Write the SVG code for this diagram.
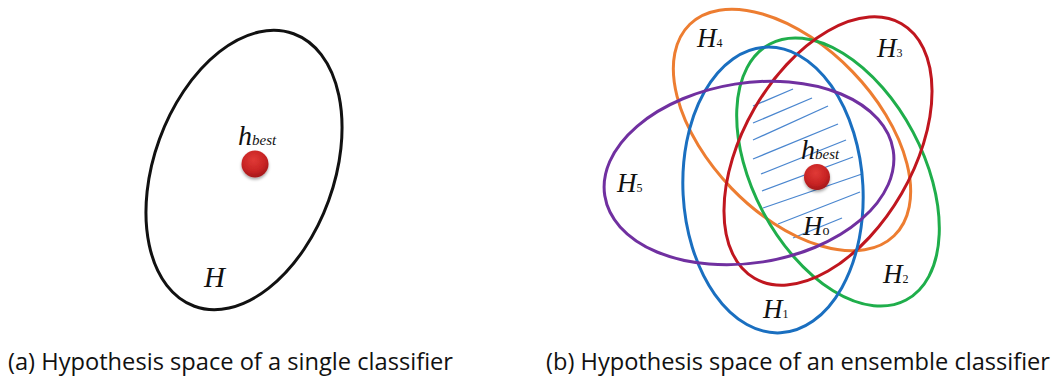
<svg xmlns="http://www.w3.org/2000/svg" width="1057" height="381" viewBox="0 0 1057 381">
  <style>
    .ell { fill: none; stroke-width: 3; }
    .lbl { font-family: "Liberation Serif", "Times New Roman", serif; font-style: italic; fill: #111; }
    .sub { font-family: "Liberation Serif", "Times New Roman", serif; font-style: normal; fill: #111; }
    .subi { font-family: "Liberation Serif", "Times New Roman", serif; font-style: italic; fill: #111; }
    .cap { font-family: "Open Sans", "Liberation Sans", sans-serif; font-size: 23px; fill: #111; }
    .hatch { stroke: #4a86cf; stroke-width: 1.3; fill: none; }
  </style>
  <defs>
    <radialGradient id="dotGrad" cx="0.45" cy="0.35" r="0.7">
      <stop offset="0" stop-color="#e03a36"/>
      <stop offset="0.6" stop-color="#c82424"/>
      <stop offset="1" stop-color="#9c1518"/>
    </radialGradient>
    <filter id="shadow" x="-50%" y="-50%" width="200%" height="200%">
      <feDropShadow dx="0" dy="2" stdDeviation="1.5" flood-color="#000" flood-opacity="0.35"/>
    </filter>
  </defs>
  <rect width="1057" height="381" fill="#fff"/>

  <!-- (a) single classifier -->
  <g id="H-single">
    <ellipse class="ell" cx="244" cy="170" rx="90" ry="145" transform="rotate(20 244 170)" stroke="#111"/>
    <text class="lbl" x="204" y="287" font-size="29">H</text>
  </g>
  <g id="hbest-single">
    <circle cx="255" cy="164" r="13.5" fill="url(#dotGrad)" filter="url(#shadow)"/>
    <text x="238" y="145"><tspan class="lbl" font-size="28">h</tspan><tspan class="subi" font-size="15">best</tspan></text>
  </g>

  <!-- (b) ensemble -->
  <g id="H0-hatch">
    <line class="hatch" x1="753" y1="106" x2="793" y2="89"/>
    <line class="hatch" x1="753" y1="123" x2="812" y2="98"/>
    <line class="hatch" x1="753" y1="140" x2="828" y2="106"/>
    <line class="hatch" x1="753" y1="159" x2="838" y2="124"/>
    <line class="hatch" x1="761" y1="174" x2="846" y2="140"/>
    <line class="hatch" x1="762" y1="191" x2="853" y2="157"/>
    <line class="hatch" x1="763" y1="208" x2="862" y2="174"/>
    <line class="hatch" x1="778" y1="224" x2="860" y2="192"/>
    <line class="hatch" x1="793" y1="238" x2="842" y2="218"/>
    <text x="803" y="235"><tspan class="lbl" font-size="27">H</tspan><tspan class="sub" font-size="14">o</tspan></text>
  </g>
  <g id="H4">
    <ellipse class="ell" cx="792" cy="130" rx="84" ry="147" transform="rotate(-44 792 130)" stroke="#ed7d31"/>
    <text x="697" y="47"><tspan class="lbl" font-size="27">H</tspan><tspan class="sub" font-size="12">4</tspan></text>
  </g>
  <g id="H2">
    <ellipse class="ell" cx="838" cy="172" rx="85" ry="145" transform="rotate(-28 838 172)" stroke="#1fae4b"/>
    <text x="883" y="283"><tspan class="lbl" font-size="27">H</tspan><tspan class="sub" font-size="12">2</tspan></text>
  </g>
  <g id="H3">
    <ellipse class="ell" cx="828" cy="151" rx="85" ry="147" transform="rotate(30 828 151)" stroke="#c0161f"/>
    <text x="877" y="57"><tspan class="lbl" font-size="27">H</tspan><tspan class="sub" font-size="12">3</tspan></text>
  </g>
  <g id="H1">
    <ellipse class="ell" cx="773" cy="190" rx="90" ry="143" transform="rotate(-3 773 190)" stroke="#1a6fc0"/>
    <text x="763" y="318"><tspan class="lbl" font-size="27">H</tspan><tspan class="sub" font-size="12">1</tspan></text>
  </g>
  <g id="H5">
    <ellipse class="ell" cx="749" cy="173" rx="146" ry="90" transform="rotate(-9 749 173)" stroke="#7030a0"/>
    <text x="617" y="192"><tspan class="lbl" font-size="27">H</tspan><tspan class="sub" font-size="12">5</tspan></text>
  </g>
  <g id="hbest-ensemble">
    <circle cx="817" cy="177" r="13" fill="url(#dotGrad)" filter="url(#shadow)"/>
    <text x="801" y="159"><tspan class="lbl" font-size="28">h</tspan><tspan class="subi" font-size="15">best</tspan></text>
  </g>

  <g id="connectors"></g>

  <g id="captions">
    <text class="cap" x="8" y="370" textLength="445" lengthAdjust="spacingAndGlyphs">(a) Hypothesis space of a single classifier</text>
    <text class="cap" x="546" y="370" textLength="504" lengthAdjust="spacingAndGlyphs">(b) Hypothesis space of an ensemble classifier</text>
  </g>
</svg>
